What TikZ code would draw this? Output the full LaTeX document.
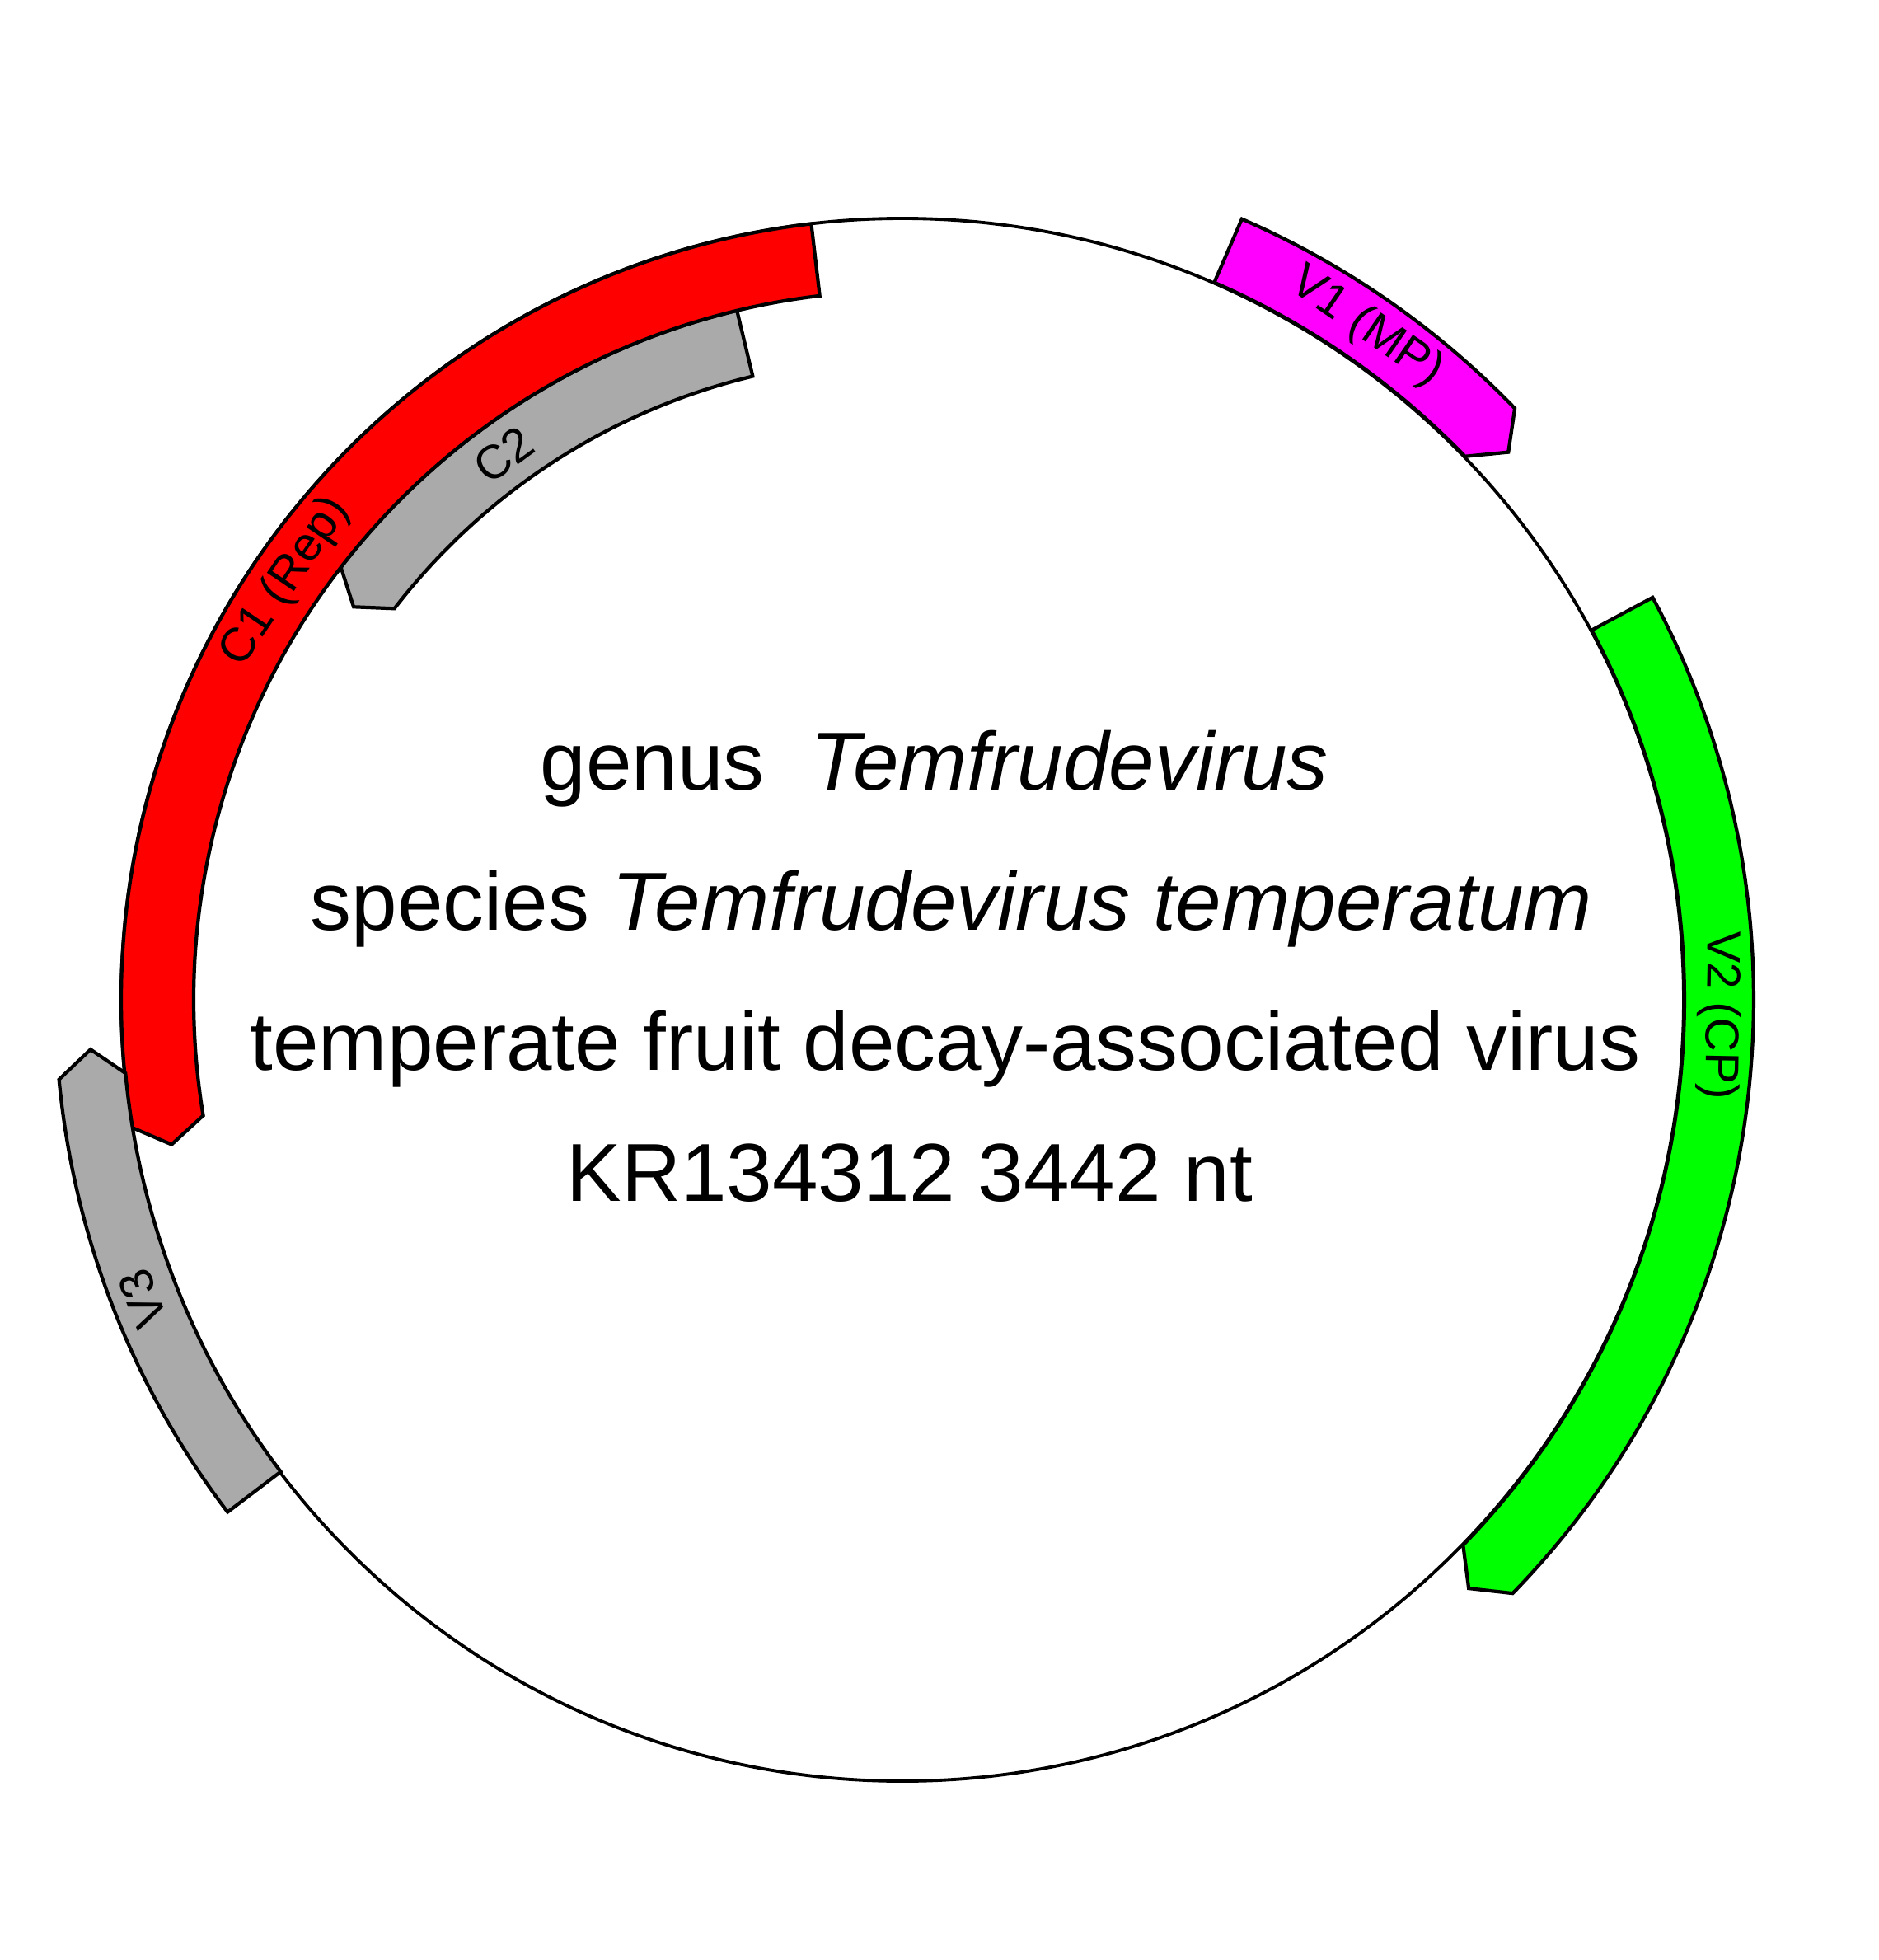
\documentclass[tikz,border=0pt]{standalone}
\usepackage{fontspec}
\setmainfont{Liberation Sans}
\usepackage{tikz}
\usetikzlibrary{calc}
\definecolor{repred}{RGB}{255,0,0}
\definecolor{cpgreen}{RGB}{0,255,0}
\definecolor{mpmagenta}{RGB}{255,0,255}
\definecolor{orfgrey}{RGB}{170,170,170}

\begin{document}
\begin{tikzpicture}[
    gene/.style={draw=black, line width=1.2pt, line join=miter},
    genelabel/.style={font=\fontsize{16.4}{19}\selectfont, inner sep=0pt},
    infotext/.style={font=\fontsize{28.4}{34}\selectfont, inner sep=0pt, anchor=base west}]
  \useasboundingbox (-10.95,-11.65) rectangle (11.84,12.13);
  \coordinate (O) at (0,0);

  % genome circle
  \draw[line width=1.1pt] (O) circle[radius=9.48];

  % C2 and C1 (complementary strand, inside)
  \draw[gene, fill=orfgrey] (103.5:8.60) arc[start angle=103.5, end angle=142.4, radius=8.60]
    -- (144.4:8.19) -- (142.4:7.78) arc[start angle=142.4, end angle=103.5, radius=7.78] -- cycle;
  \draw[gene, fill=repred] (96.7:9.48) arc[start angle=96.7, end angle=189.4, radius=9.48]
    -- (191.2:9.04) -- (189.4:8.60) arc[start angle=189.4, end angle=96.7, radius=8.60] -- cycle;

  % V1, V2 and V3 (virion strand, outside)
  \draw[gene, fill=mpmagenta] (66.5:10.33) arc[start angle=66.5, end angle=44, radius=10.33]
    -- (42.1:9.91) -- (44:9.49) arc[start angle=44, end angle=66.5, radius=9.49] -- cycle;
  \draw[gene, fill=cpgreen] (28.2:10.33) arc[start angle=28.2, end angle=-44.2, radius=10.33]
    -- (-46.1:9.91) -- (-44.2:9.49) arc[start angle=-44.2, end angle=28.2, radius=9.49] -- cycle;
  \draw[gene, fill=orfgrey] (217.2:10.28) arc[start angle=217.2, end angle=185.4, radius=10.28]
    -- (183.5:9.87) -- (185.4:9.47) arc[start angle=185.4, end angle=217.2, radius=9.47] -- cycle;

  % gene names
  \node[genelabel, rotate=-34.6] (lblV1) at (55.4:9.91) {V1 (MP)};
  \node[genelabel, rotate=-91.1] (lblV2) at (-1.1:9.91) {V2 (CP)};
  \node[genelabel, rotate=111.5] (lblV3) at (201.5:9.91) {V3};
  \node[genelabel, rotate=55.9] (lblC1) at (145.9:9.04) {C1 (Rep)};
  \node[genelabel, rotate=36.2] (lblC2) at (126.2:8.19) {C2};

  % virus information
  \node[infotext] (genus) at (-4.40,2.55) {genus~~\textit{Temfrudevirus}};
  \node[infotext] (species) at (-7.19,0.85) {species \textit{Temfrudevirus temperatum}};
  \node[infotext] (virusname) at (-7.92,-0.85) {temperate fruit decay-associated virus};
  \node[infotext] (accession) at (-4.08,-2.44) {KR134312 3442 nt};
\end{tikzpicture}
\end{document}
